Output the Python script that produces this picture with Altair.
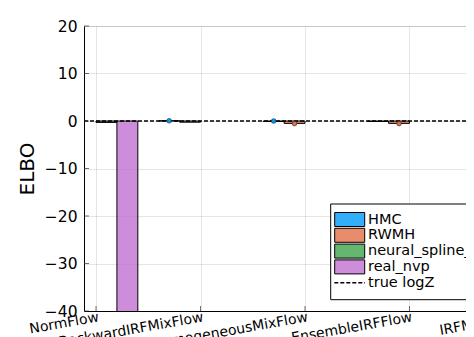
import json
import numpy as np
import pandas as pd
import altair as alt

# ---------------- data ----------------
methods = ["NormFlow", "BackwardIRFMixFlow", "HomogeneousMixFlow", "EnsembleIRFFlow", "IRFMixFlow"]
series = ["HMC", "RWMH", "neural_spline_flow", "real_nvp"]
colors = ["#009AFA", "#E26F46", "#3DA44D", "#C271D2"]

nan = float("nan")
elbo_hmc = [nan, 0.05, -0.1, -0.1, -0.1]
elbo_rwmh = [nan, -0.25, -0.5, -0.5, -0.4]
elbo_neural = [-0.3, nan, nan, nan, nan]
elbo_realnvp = [-52.0, nan, nan, nan, nan]

dot_method = ["BackwardIRFMixFlow", "HomogeneousMixFlow", "HomogeneousMixFlow", "EnsembleIRFFlow"]
dot_series = ["HMC", "HMC", "RWMH", "RWMH"]
dot_elbo = [0.05, 0.0, -0.55, -0.55]

true_logz = [0.0]
legend_labels = series + ["true logZ"]
y_ticks = [-40, -30, -20, -10, 0, 10, 20]

# ---------------- tables ----------------
rows = []
for si, (s, vals) in enumerate(zip(series, [elbo_hmc, elbo_rwmh, elbo_neural, elbo_realnvp])):
    for mi, m in enumerate(methods):
        v = vals[mi]
        if np.isnan(v):
            continue
        rows.append(dict(method=m, series=s, mi=mi, si=si, elbo=v))
bars_df = pd.DataFrame(rows)

dots_df = pd.DataFrame({
    "method": dot_method,
    "series": dot_series,
    "mi": [methods.index(m) for m in dot_method],
    "si": [series.index(s) for s in dot_series],
    "elbo": dot_elbo,
})
logz_df = pd.DataFrame({"logz": true_logz})
xtick_df = pd.DataFrame({"mi": list(range(len(methods)))})
ytick_df = pd.DataFrame({"v": y_ticks})

FONT = "DejaVu Sans"
xscale = alt.Scale(domain=[-0.115, len(methods) - 0.885], nice=False, zero=False)
yscale = alt.Scale(domain=[-40, 20], nice=False, zero=False)
cscale = alt.Scale(domain=series, range=colors)

label_expr = json.dumps(methods) + "[datum.value]"

x_axis = alt.Axis(
    values=list(range(len(methods))), labelExpr=label_expr, labelAngle=-10,
    labelAlign="right", labelBaseline="top", labelPadding=-1, labelOffset=1,
    labelOverlap=False, labelFlush=False, labelBound=False, tickSize=0, grid=True,
    title=None, labelFontSize=14, labelFont=FONT, labelColor="black",
    domainColor="black", gridColor="black", gridOpacity=0.1,
)
y_axis = alt.Axis(
    values=y_ticks, title="ELBO", grid=True, tickSize=0, labelPadding=7,
    labelFontSize=15.5, labelFont=FONT, labelColor="black",
    titleFontSize=20, titleFont=FONT, titleFontWeight="normal", titleColor="black",
    titlePadding=7, domainColor="black", gridColor="black", gridOpacity=0.1,
)

bars = alt.Chart(bars_df).transform_calculate(
    x0="datum.mi + (datum.si - 1.5) * 0.2 - 0.1",
    x1="datum.mi + (datum.si - 1.5) * 0.2 + 0.1",
    zero="0",
).mark_bar(clip=True, stroke="black", strokeWidth=1, fillOpacity=0.8, opacity=1).encode(
    x=alt.X("x0:Q", scale=xscale, axis=x_axis),
    x2="x1:Q",
    y=alt.Y("elbo:Q", scale=yscale, axis=y_axis),
    y2="zero:Q",
    fill=alt.Fill("series:N", scale=cscale, legend=None),
)

rule = alt.Chart(logz_df).mark_rule(color="black", strokeWidth=1.5, strokeDash=[4, 2]).encode(
    y=alt.Y("logz:Q", scale=yscale, axis=y_axis)
)

dots = alt.Chart(dots_df).transform_calculate(
    xc="datum.mi + (datum.si - 1.5) * 0.2"
).mark_point(filled=True, size=22, stroke="#222", strokeWidth=0.6, opacity=1).encode(
    x=alt.X("xc:Q", scale=xscale, axis=x_axis),
    y=alt.Y("elbo:Q", scale=yscale, axis=y_axis),
    fill=alt.Fill("series:N", scale=cscale, legend=None),
)

xticks = alt.Chart(xtick_df).mark_tick(size=5, thickness=1, color="#333").encode(
    x=alt.X("mi:Q", scale=xscale, axis=x_axis), y=alt.value(282.5)
)
yticks = alt.Chart(ytick_df).mark_tick(size=5, thickness=1, color="#333").encode(
    y=alt.Y("v:Q", scale=yscale, axis=y_axis), x=alt.value(2.5)
)

main = alt.layer(bars, rule, dots, xticks, yticks)

# ---------------- legend ----------------
yleg = alt.Y("label:N", scale=alt.Scale(type="point", domain=legend_labels, range=[193.5, 256.7], padding=0), axis=None)

box = alt.Chart(pd.DataFrame({"a": [0]})).mark_rect(fill="white", stroke="black", strokeWidth=1).encode(
    x=alt.value(246.7), x2=alt.value(440), y=alt.value(178), y2=alt.value(273.7)
)
syms = alt.Chart(pd.DataFrame({"label": series})).mark_point(
    shape="M-1,-0.467H1V0.467H-1Z", filled=True, size=900, stroke="black",
    strokeWidth=1, fillOpacity=0.8, opacity=1
).encode(
    x=alt.value(265.7), y=yleg,
    fill=alt.Fill("label:N", scale=cscale, legend=None),
)
leg_line = alt.Chart(pd.DataFrame({"label": ["true logZ"]})).mark_rule(
    color="black", strokeWidth=1.5, strokeDash=[4, 2]
).encode(x=alt.value(250.3), x2=alt.value(281), y=yleg)
texts = alt.Chart(pd.DataFrame({"label": legend_labels})).mark_text(
    align="left", baseline="middle", fontSize=14.5, font=FONT, color="black"
).encode(x=alt.value(284), y=yleg, text="label:N")

legend = alt.layer(box, syms, leg_line, texts)

chart = alt.layer(main, legend).resolve_scale(y="independent").properties(
    width=442, height=285,
    padding={"left": 76, "top": 18, "right": -60, "bottom": 26},
    autosize=alt.AutoSizeParams(type="none"),
).configure_view(stroke=None).configure(background="white")

chart.save("out.html", embed_options={"renderer": "svg", "actions": False})
